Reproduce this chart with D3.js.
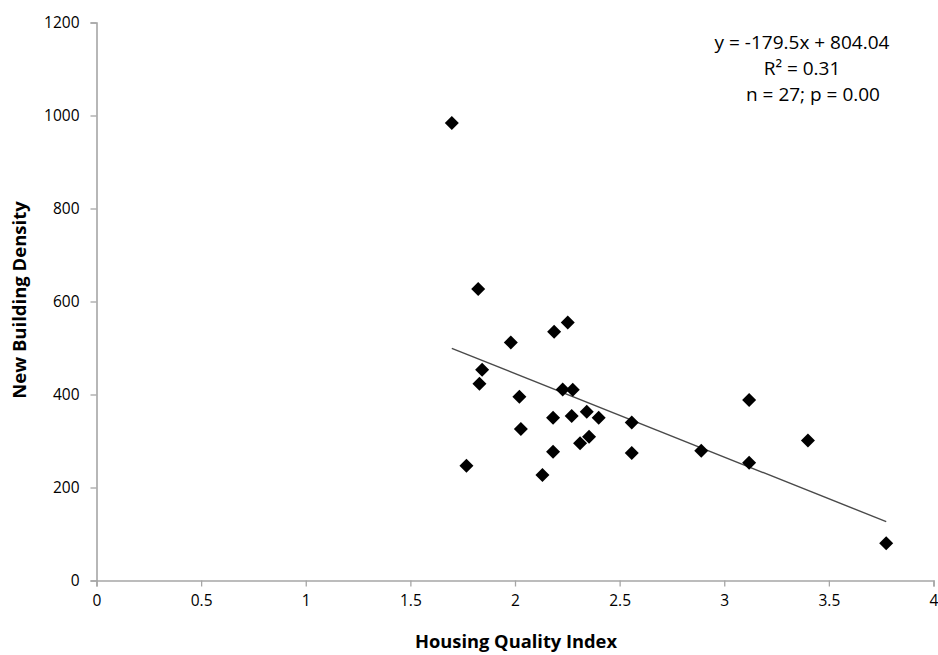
<!DOCTYPE html>
<html lang=en>
<head>
	<meta charset="utf-8">
	<title>housing quality vs new building density</title>
	<script src="https://cdn.jsdelivr.net/npm/d3@7"></script>
	<style>
	body { margin: 0; background: #fff; }
	text { font-family: "Open Sans", "Liberation Sans", sans-serif; fill: #000; }
	</style>
</head>

<body>
	<script type="text/javascript">
	// values
	var quality = [1.698, 1.824, 2.252, 2.187, 1.980, 1.843, 1.830, 2.228, 2.276, 2.021,
		2.343, 2.271, 2.182, 2.400, 2.558, 2.028, 2.354, 2.311, 2.182, 2.558,
		1.768, 2.131, 3.119, 3.400, 2.890, 3.119, 3.774];
	var density = [984, 627, 555, 535, 512, 453, 423, 411, 410, 395,
		363, 354, 350, 350, 340, 326, 309, 295, 277, 274,
		247, 227, 388, 301, 279, 253, 80];
	var xTicks = [0, 0.5, 1, 1.5, 2, 2.5, 3, 3.5, 4];
	var yTicks = [0, 200, 400, 600, 800, 1000, 1200];
	var slope = -179.5, intercept = 804.04;
	var statLines = ["y = -179.5x + 804.04", "R\u00B2 = 0.31", "n = 27; p = 0.00"];

	var points = [];
	for(var i=0; i<quality.length; i++){
		points.push({x: quality[i], y: density[i]});
	}

	var svg = d3.select('body')
				.append('svg')
				.attr('width', 938)
				.attr('height', 655);

	var x = d3.scaleLinear().domain([0, 4]).range([96.5, 933.5]);
	var y = d3.scaleLinear().domain([0, 1200]).range([580.5, 22.5]);

	var axisColor = '#a6a6a6';

	var gx = svg.append('g')
				.attr('transform', 'translate(0,' + y(0) + ')')
				.call(d3.axisBottom(x).tickValues(xTicks).tickSize(6).tickPadding(8)
					.tickFormat(function(d){ return String(d); }));
	var gy = svg.append('g')
				.attr('transform', 'translate(' + x(0) + ',0)')
				.call(d3.axisLeft(y).tickValues(yTicks).tickSize(6).tickPadding(11)
					.tickFormat(function(d){ return String(d); }));

	[gx, gy].forEach(function(g){
		g.select('.domain').attr('stroke', axisColor).attr('stroke-width', 1.6);
		g.selectAll('.tick line').attr('stroke', axisColor).attr('stroke-width', 1.3);
		g.selectAll('.tick text')
			.style('font-family', '"Open Sans", "Liberation Sans", sans-serif')
			.style('font-size', '15.5px')
			.attr('fill', '#000');
	});

	// trend line over the data range
	var xr = d3.extent(quality);
	svg.append('line')
		.attr('x1', x(xr[0]))
		.attr('y1', y(slope*xr[0] + intercept))
		.attr('x2', x(xr[1]))
		.attr('y2', y(slope*xr[1] + intercept))
		.attr('stroke', '#4a4a4a')
		.attr('stroke-width', 1.4);

	svg.selectAll('path.pt')
		.data(points)
		.enter()
		.append('path')
		.attr('class', 'pt')
		.attr('d', d3.symbol().type(d3.symbolSquare).size(98))
		.attr('transform', function(d){
			return 'translate(' + x(d.x) + ',' + y(d.y) + ') rotate(45)';
		})
		.attr('fill', '#000');

	// regression stats
	var statX = [802, 802, 813];
	svg.selectAll('text.stat')
		.data(statLines)
		.enter()
		.append('text')
		.attr('class', 'stat')
		.attr('x', function(d, i){ return statX[i]; })
		.attr('y', function(d, i){ return 49 + i*26; })
		.attr('text-anchor', 'middle')
		.style('font-size', '19px')
		.text(function(d){ return d; });

	svg.append('text')
		.attr('x', 516)
		.attr('y', 648)
		.attr('text-anchor', 'middle')
		.style('font-size', '18.3px')
		.style('font-weight', 'bold')
		.text('Housing Quality Index');

	svg.append('text')
		.attr('transform', 'translate(26,300) rotate(-90)')
		.attr('text-anchor', 'middle')
		.style('font-size', '18.5px')
		.style('font-weight', 'bold')
		.text('New Building Density');

	</script>
</body>
</html>
